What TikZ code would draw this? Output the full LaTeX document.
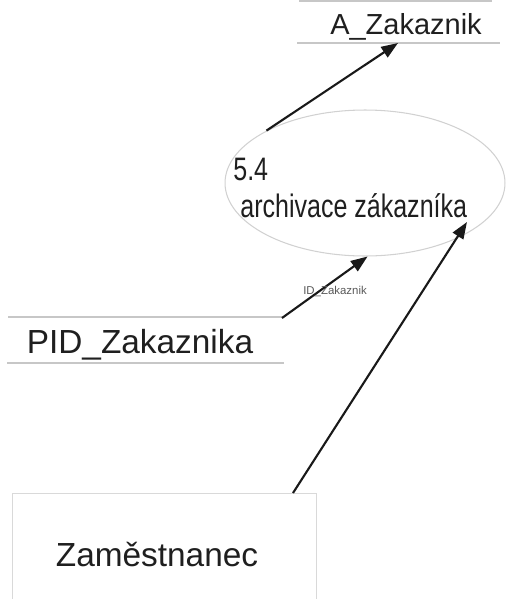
\documentclass[tikz,border=0pt]{standalone}
\usepackage{fontspec}
\setmainfont{Liberation Sans}
\newfontfamily\narrowsf[FakeStretch=0.77]{Liberation Sans}
\usetikzlibrary{arrows.meta,shapes.geometric}

\tikzset{
  flow/.style={line width=1.2pt, black!90, -{Triangle[length=9.5pt,width=7pt]}},
  storeline/.style={draw=black!22, line width=0.7pt},
  process/.style={ellipse, draw=black!18, line width=0.6pt, minimum width=5.6cm, minimum height=2.92cm, inner sep=0pt},
  proctext/.style={inner sep=0pt, text=black!88, font=\narrowsf\fontsize{18.5}{20}\selectfont},
  storetext/.style={inner sep=0pt, text=black!88},
  entity/.style={rectangle, draw=black!15, line width=0.8pt, minimum width=6.08cm, minimum height=2.48cm, inner sep=0pt},
  flowlabel/.style={inner sep=0pt, text=black!65, font=\fontsize{6.5}{7}\selectfont}
}

\begin{document}
\begin{tikzpicture}[x=0.02cm, y=-0.02cm]
  \useasboundingbox (0,0) rectangle (506,599);

  % data store A_Zakaznik
  \draw[storeline] (299,1) -- (492,1);
  \draw[storeline] (297,43) -- (500,43);
  \node[storetext, font=\fontsize{16.5}{18}\selectfont] (azak) at (406,27) {A\_Zakaznik};
  \coordinate (azakin) at (398,43);

  % process 5.4
  \node[process] (proc) at (365,183) {};
  \node[proctext, anchor=base west] (procid) at (233,180) {5.4};
  \node[proctext, anchor=base west] (procname) at (240,217) {archivace zákazníka};
  \coordinate (procin) at (467,222);

  % data store PID_Zakaznika
  \draw[storeline] (8,317) -- (283,317);
  \draw[storeline] (7,363) -- (284,363);
  \node[storetext, font=\fontsize{19}{21}\selectfont] (pid) at (140,345) {PID\_Zakaznika};
  \coordinate (pidout) at (282,318);

  % entity Zaměstnanec
  \node[entity, anchor=north west] (zam) at (12,493) {};
  \node[storetext, font=\fontsize{19}{21}\selectfont] (zamname) at (157,555) {Zaměstnanec};
  \coordinate (zamout) at (293,493);

  % flows
  \draw[flow] (proc.152) -- (azakin);
  \draw[flow] (pidout) -- (proc.-88) node[flowlabel, pos=0.62, below=3pt] (idlbl) {ID\_Zakaznik};
  \draw[flow] (zamout) -- (procin);
\end{tikzpicture}
\end{document}
